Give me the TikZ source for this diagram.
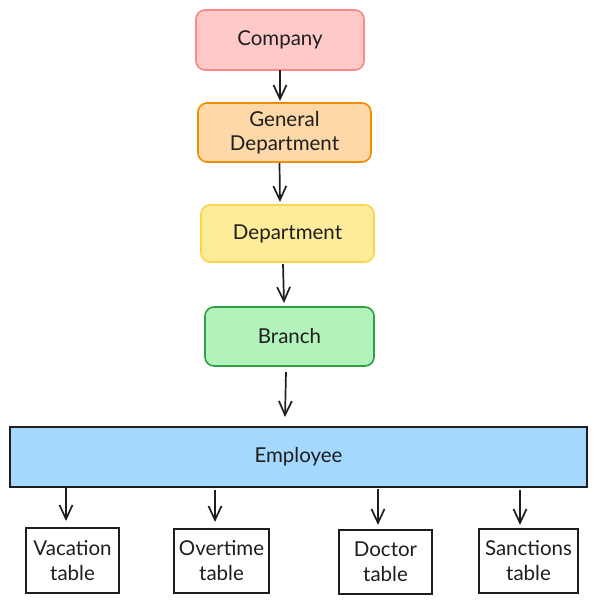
\documentclass[tikz,border=0pt]{standalone}
\usepackage{fontspec}
\setmainfont{Lato}
\usetikzlibrary{arrows.meta,calc}
\definecolor{ink}{HTML}{1E1E1E}
\definecolor{redfill}{HTML}{FFC9C9}\definecolor{redline}{HTML}{FF8787}
\definecolor{orfill}{HTML}{FFD8A8}\definecolor{orline}{HTML}{F08C00}
\definecolor{yefill}{HTML}{FFEC99}\definecolor{yeline}{HTML}{FCD34D}
\definecolor{grfill}{HTML}{B2F2BB}\definecolor{grline}{HTML}{2F9E44}
\definecolor{blfill}{HTML}{A5D8FF}
\tikzset{
  box/.style={draw, line width=1.6pt, rounded corners=9pt, inner sep=0pt, outer sep=0pt,
    align=center, text=ink, font=\fontsize{20.5}{24}\selectfont},
  tbl/.style={draw=ink, line width=1.5pt, inner sep=0pt, outer sep=0pt, fill=white,
    align=center, text=ink, font=\fontsize{20.5}{25}\selectfont},
  arr/.style={draw=ink, line width=1.7pt, -{Straight Barb[length=14pt,width=13pt,line width=1.7pt]}},
}
\begin{document}
\begin{tikzpicture}[x=1pt,y=-1pt]
\useasboundingbox (0,0) rectangle (596,603);
\node[box, fill=redfill, draw=redline, minimum width=168, minimum height=60] (comp) at (280,40) {Company};
\node[box, fill=orfill, draw=orline, minimum width=173, minimum height=59] (gd) at (284.5,132.5) {General\\Department};
\node[box, fill=yefill, draw=yeline, minimum width=173, minimum height=57] (dep) at (287.5,233.5) {Department};
\node[box, fill=grfill, draw=grline, minimum width=169, minimum height=59] (br) at (289.5,336.5) {Branch};
\node[box, rounded corners=0pt, fill=blfill, draw=ink, minimum width=577, minimum height=60] (emp) at (298.5,457) {Employee};
\node[tbl, minimum width=93, minimum height=65] (vac) at (72.5,560.5) {Vacation\\table};
\node[tbl, minimum width=95, minimum height=64] (ovt) at (221.5,561) {Overtime\\table};
\node[tbl, minimum width=93, minimum height=64] (doc) at (385.5,562) {Doctor\\table};
\node[tbl, minimum width=99, minimum height=64] (san) at (528.5,561) {Sanctions\\table};
\draw[arr] (comp.south) -- ($(gd.north)+(-4.5,-2)$);
\draw[arr] ($(gd.south)+(-5,1)$) -- ($(dep.north)+(-7.5,-3)$);
\draw[arr] ($(dep.south)+(-4.5,2)$) -- ($(br.north)+(-5.5,-4)$);
\draw[arr] ($(br.south)+(-3.5,6)$) -- ($(emp.north)+(-13.5,-10)$);
\draw[arr] ($(vac.north |- emp.south)+(-6.5,1)$) -- ($(vac.north)+(-6.5,-7)$);
\draw[arr] ($(ovt.north |- emp.south)+(-6.5,3)$) -- ($(ovt.north)+(-6.5,-7)$);
\draw[arr] ($(doc.north |- emp.south)+(-7.5,2)$) -- ($(doc.north)+(-7.5,-5)$);
\draw[arr] ($(san.north |- emp.south)+(-8.5,3)$) -- ($(san.north)+(-8.5,-4)$);
\end{tikzpicture}
\end{document}
